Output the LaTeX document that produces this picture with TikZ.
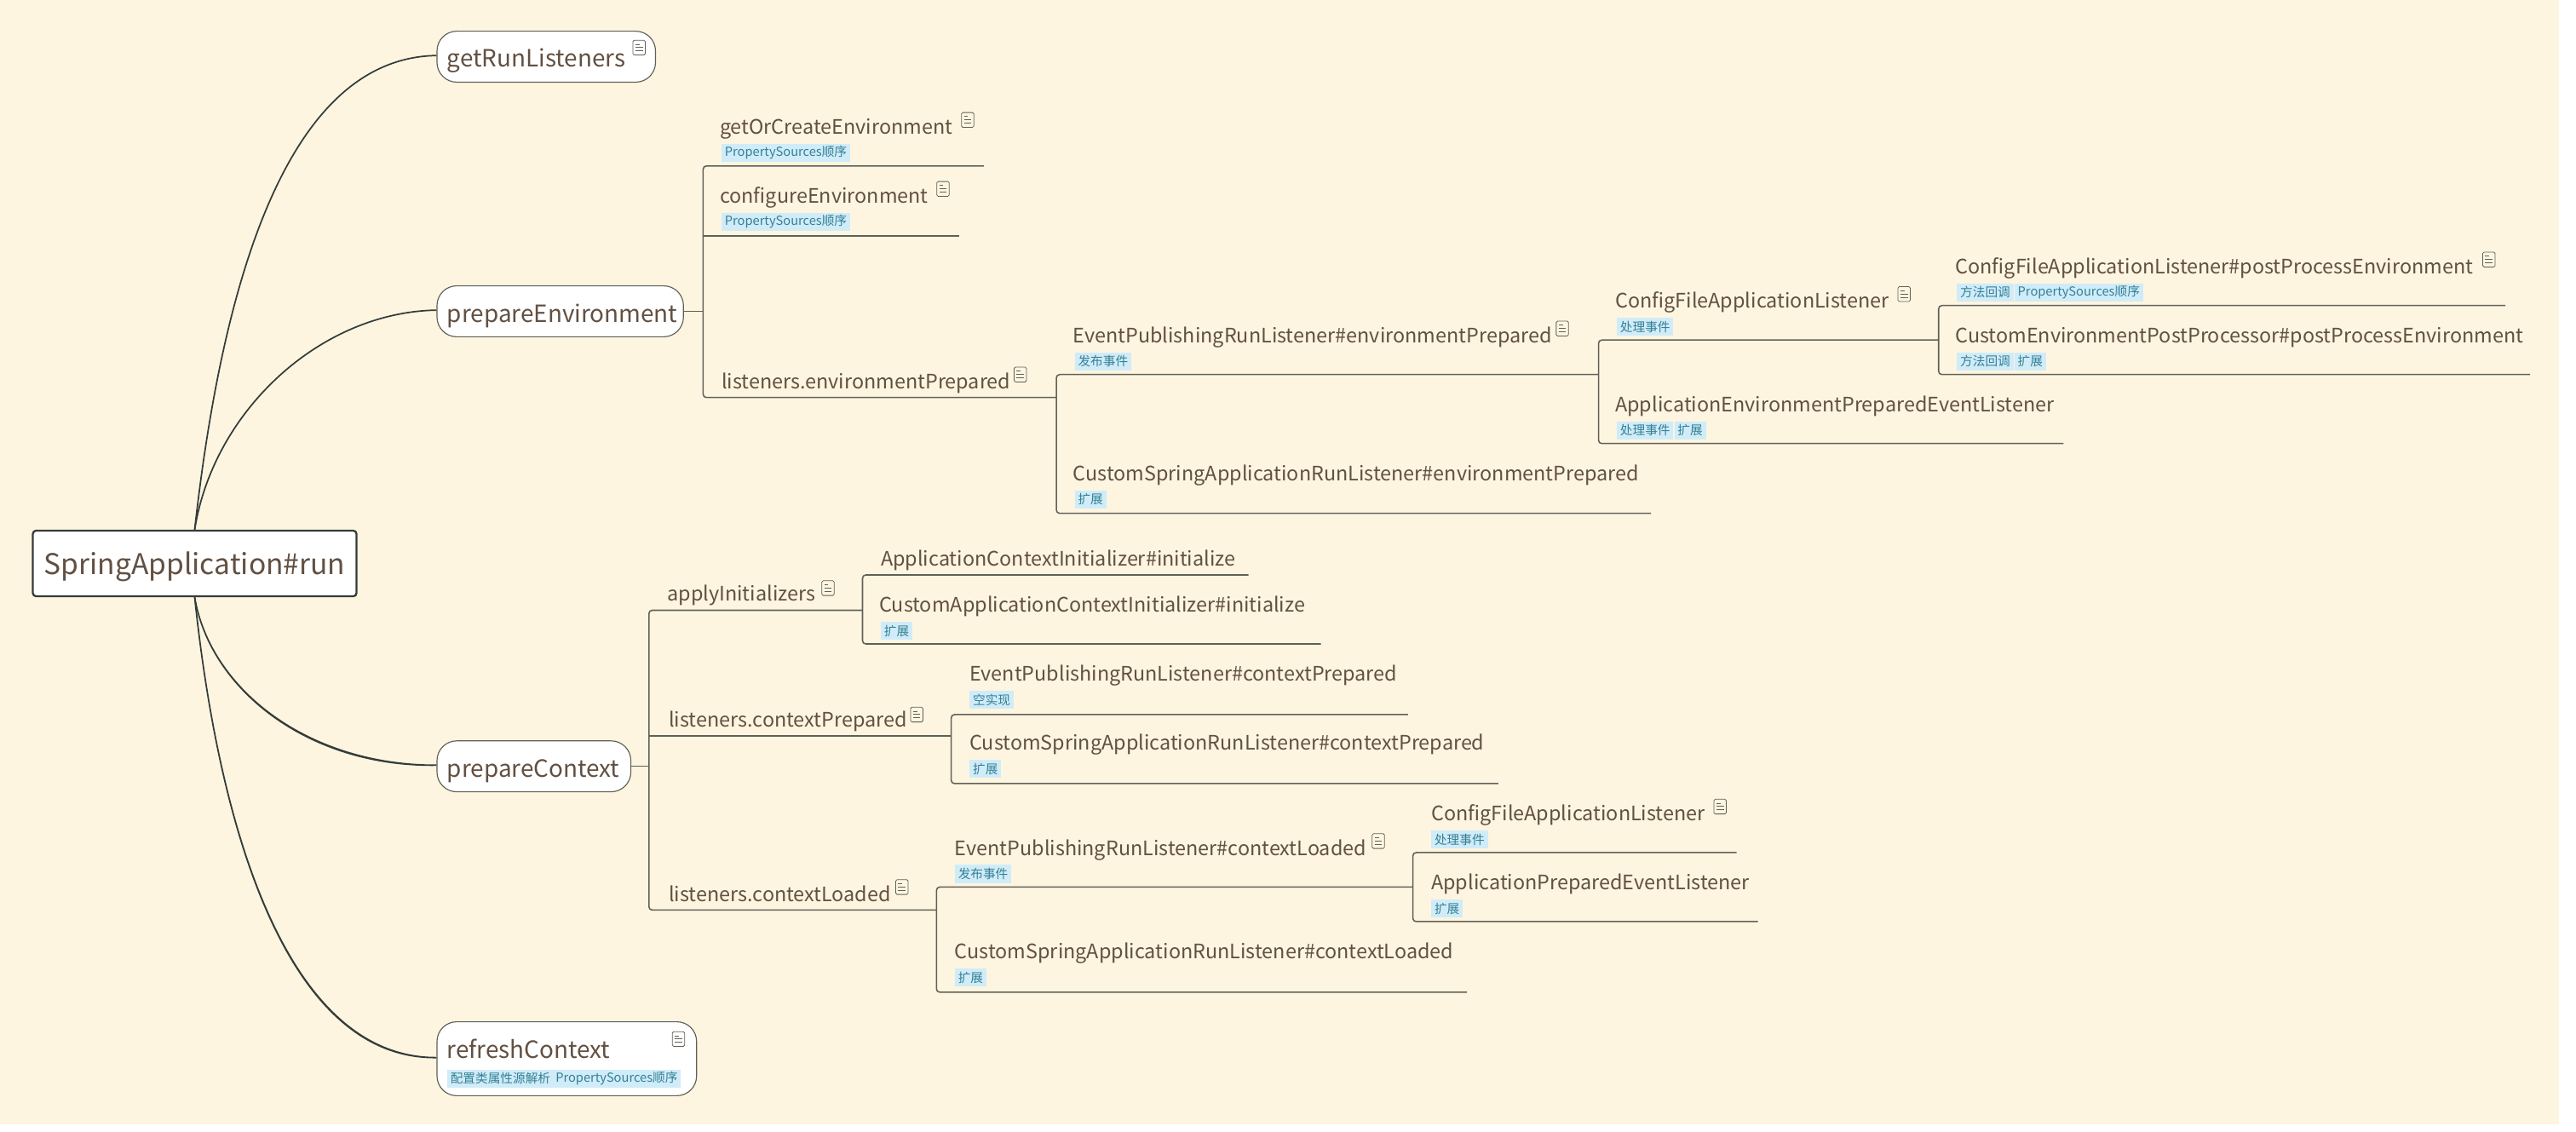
\documentclass[tikz,border=0pt]{standalone}
\usepackage{fontspec}
\setmainfont{Noto Sans CJK SC}
\definecolor{paper}{RGB}{253,245,224}
\definecolor{inkbrown}{RGB}{98,80,66}
\definecolor{linegray}{RGB}{96,96,88}
\definecolor{curvedark}{RGB}{52,60,58}
\definecolor{tagblue}{RGB}{208,236,248}
\definecolor{taginkblue}{RGB}{52,128,150}
\tikzset{
	rootnode/.style={draw=curvedark,line width=1.2pt,fill=white,rounded corners=2pt,minimum width=197pt,minimum height=40pt,inner sep=0pt,text height=16pt,text depth=3pt,text=inkbrown,font=\fontsize{17.4}{17.4}\selectfont},
	mainnode/.style={draw=linegray,line width=0.6pt,fill=white,rounded corners=12pt,inner sep=0pt},
	maintext/.style={anchor=west,inner sep=0pt,yshift=-3pt,text height=0.75em,text depth=0.2em,text=inkbrown,font=\fontsize{14.45}{14.45}\selectfont},
	subtext/.style={anchor=west,inner sep=0pt,yshift=-1.9pt,text height=0.75em,text depth=0.2em,text=inkbrown,font=\fontsize{12.13}{12.13}\selectfont},
	tagbox/.style={anchor=west,fill=tagblue,text=taginkblue,inner xsep=2pt,inner ysep=0pt,minimum height=11pt,font=\fontsize{7.6}{7.6}\selectfont},
	noteicon/.style={draw=linegray,line width=0.4pt,rounded corners=0.8pt,minimum width=7.5pt,minimum height=9pt,inner sep=0pt,
		path picture={\draw[linegray,line width=0.5pt] ([shift={(1.5pt,-2.5pt)}]path picture bounding box.north west) -- +(2.5pt,0) ([shift={(1.5pt,-4.5pt)}]path picture bounding box.north west) -- +(4.5pt,0) ([shift={(1.5pt,-6.5pt)}]path picture bounding box.north west) -- +(4.5pt,0);}},
	branch/.style={draw=linegray,line width=0.8pt,rounded corners=2pt},
	curveline/.style={draw=curvedark,fill=curvedark,line width=0.9pt}
}
\begin{document}
\begin{tikzpicture}[x=1pt,y=-1pt]
	\useasboundingbox (0,0) rectangle (1568,688.6);
	\fill[paper] (0,0) rectangle (1557.6,684.4);
	% root and main topics
	\node[rootnode] (run) at (118.5,343) {SpringApplication\#run};
	\node[mainnode,minimum width=133pt,minimum height=31pt] (listeners) at (332.5,34.5) {};
	\node[mainnode,minimum width=150pt,minimum height=31pt] (env) at (341,189.5) {};
	\node[mainnode,minimum width=118pt,minimum height=31pt] (ctx) at (325,466.5) {};
	\node[mainnode,minimum width=158pt,minimum height=45pt] (refresh) at (345,644.5) {};
	\node[maintext] (listenerstext) at (272,35) {getRunListeners};
	\node[maintext] (envtext) at (272,190.5) {prepareEnvironment};
	\node[maintext] (ctxtext) at (272,467.5) {prepareContext};
	\node[maintext] (refreshtext) at (272,638.5) {refreshContext};
	\node[noteicon] (listenersnote) at (389,29) {};
	\node[noteicon] (refreshnote) at (413,632.5) {};
	\node[tagbox] (refreshtaga) at (272,656.5) {配置类属性源解析};
	\node[tagbox] (refreshtagb) at (336,656.5) {PropertySources顺序};
	\draw[curveline] (run.north) .. controls (140,130) and (190,35) .. ([yshift=0.7pt]listeners.west) .. controls (190,35) and (140,130) .. (run.north) -- cycle;
	\draw[curveline] (run.north) .. controls (130,250) and (195,190) .. ([yshift=0.7pt]env.west) .. controls (195,190) and (130,250) .. (run.north) -- cycle;
	\draw[curveline] (run.south) .. controls (128,420) and (188,467) .. ([yshift=0.7pt]ctx.west) .. controls (188,466) and (128,420) .. (run.south) -- cycle;
	\draw[curveline] (run.south) .. controls (135,520) and (180,645) .. ([yshift=0.7pt]refresh.west) .. controls (180,644) and (135,520) .. (run.south) -- cycle;
	% prepareEnvironment
	\node[subtext] (goce) at (438,77) {getOrCreateEnvironment};
	\node[noteicon] (gocenote) at (589,73) {};
	\node[tagbox] (gocetag) at (439,93) {PropertySources顺序};
	\node[subtext] (conf) at (438,119) {configureEnvironment};
	\node[noteicon] (confnote) at (574,115) {};
	\node[tagbox] (conftag) at (439,135) {PropertySources顺序};
	\node[subtext] (lep) at (439,232) {listeners.environmentPrepared};
	\node[noteicon] (lepnote) at (621,228) {};
	\node[subtext] (eplep) at (653,204) {EventPublishingRunListener\#environmentPrepared};
	\node[noteicon] (eplepnote) at (951,200) {};
	\node[tagbox] (epleptag) at (654,220) {发布事件};
	\node[subtext] (cslep) at (653,288) {CustomSpringApplicationRunListener\#environmentPrepared};
	\node[tagbox] (csleptag) at (654,304) {扩展};
	\node[subtext] (cfal) at (983,183) {ConfigFileApplicationListener};
	\node[noteicon] (cfalnote) at (1159,179) {};
	\node[tagbox] (cfaltag) at (984,199) {处理事件};
	\node[subtext] (aepel) at (983,246) {ApplicationEnvironmentPreparedEventListener};
	\node[tagbox] (aepeltaga) at (984,262) {处理事件};
	\node[tagbox] (aepeltagb) at (1019,262) {扩展};
	\node[subtext] (cfpost) at (1190,162) {ConfigFileApplicationListener\#postProcessEnvironment};
	\node[noteicon] (cfpostnote) at (1515,158) {};
	\node[tagbox] (cfposttaga) at (1191,178) {方法回调};
	\node[tagbox] (cfposttagb) at (1226,178) {PropertySources顺序};
	\node[subtext] (cepost) at (1190,204) {CustomEnvironmentPostProcessor\#postProcessEnvironment};
	\node[tagbox] (ceposttaga) at (1191,220) {方法回调};
	\node[tagbox] (ceposttagb) at (1226,220) {扩展};
	\coordinate (goceL) at (428,101);
	\coordinate (goceR) at (599,101);
	\coordinate (confL) at (428,143.5);
	\coordinate (confR) at (584,143.5);
	\coordinate (lepL) at (428,242);
	\coordinate (lepR) at (643,242);
	\coordinate (eplepR) at (973,228);
	\coordinate (eplepL) at (643,228);
	\coordinate (cslepL) at (643,312.5);
	\coordinate (cslepR) at (1005,312.5);
	\coordinate (cfalL) at (973,207);
	\coordinate (cfalR) at (1180,207);
	\coordinate (aepelL) at (973,270);
	\coordinate (aepelR) at (1256,270);
	\coordinate (cfpostL) at (1180,186);
	\coordinate (cfpostR) at (1525,186);
	\coordinate (cepostL) at (1180,228);
	\coordinate (cepostR) at (1540,228);
	\draw[branch] (env.east) -- (env.east -| goceL);
	\draw[branch] (goceR) -- (goceL) -- (lepL) -- (lepR);
	\draw[branch] (confL) -- (confR);
	\draw[branch] (eplepR) -- (eplepL) -- (cslepL) -- (cslepR);
	\draw[branch] (cfalR) -- (cfalL) -- (aepelL) -- (aepelR);
	\draw[branch] (cfpostR) -- (cfpostL) -- (cepostL) -- (cepostR);
	% prepareContext
	\node[subtext] (init) at (406,361) {applyInitializers};
	\node[noteicon] (initnote) at (504,358) {};
	\node[subtext] (aci) at (536,340) {ApplicationContextInitializer\#initialize};
	\node[subtext] (caci) at (535,368) {CustomApplicationContextInitializer\#initialize};
	\node[tagbox] (cacitag) at (536,384) {扩展};
	\node[subtext] (lcp) at (407,438) {listeners.contextPrepared};
	\node[noteicon] (lcpnote) at (558,435) {};
	\node[subtext] (eplcp) at (590,410) {EventPublishingRunListener\#contextPrepared};
	\node[tagbox] (eplcptag) at (590,426) {空实现};
	\node[subtext] (cslcp) at (590,452) {CustomSpringApplicationRunListener\#contextPrepared};
	\node[tagbox] (cslcptag) at (590,468) {扩展};
	\node[subtext] (lcl) at (407,544) {listeners.contextLoaded};
	\node[noteicon] (lclnote) at (549,540) {};
	\node[subtext] (eplcl) at (581,516) {EventPublishingRunListener\#contextLoaded};
	\node[noteicon] (eplclnote) at (839,512) {};
	\node[tagbox] (eplcltag) at (581,532) {发布事件};
	\node[subtext] (cslcl) at (581,579) {CustomSpringApplicationRunListener\#contextLoaded};
	\node[tagbox] (cslcltag) at (581,595) {扩展};
	\node[subtext] (cfalb) at (871,495) {ConfigFileApplicationListener};
	\node[noteicon] (cfalbnote) at (1047,491) {};
	\node[tagbox] (cfalbtag) at (871,511) {处理事件};
	\node[subtext] (apel) at (871,537) {ApplicationPreparedEventListener};
	\node[tagbox] (apeltag) at (871,553) {扩展};
	\coordinate (initL) at (395,371.5);
	\coordinate (initR) at (525,371.5);
	\coordinate (lcpL) at (395,448);
	\coordinate (lcpR) at (579,448);
	\coordinate (lclL) at (395,554);
	\coordinate (lclR) at (570,554);
	\coordinate (aciL) at (525,350);
	\coordinate (aciR) at (760,350);
	\coordinate (caciL) at (525,392);
	\coordinate (caciR) at (804,392);
	\coordinate (eplcpL) at (579,435);
	\coordinate (eplcpR) at (857,435);
	\coordinate (cslcpL) at (579,477);
	\coordinate (cslcpR) at (912,477);
	\coordinate (eplclL) at (570,540);
	\coordinate (eplclR) at (860,540);
	\coordinate (cslclL) at (570,604);
	\coordinate (cslclR) at (893,604);
	\coordinate (cfalbL) at (860,519);
	\coordinate (cfalbR) at (1057,519);
	\coordinate (apelL) at (860,561);
	\coordinate (apelR) at (1070,561);
	\draw[branch] (ctx.east) -- (ctx.east -| initL);
	\draw[branch] (initR) -- (initL) -- (lclL) -- (lclR);
	\draw[branch] (lcpL) -- (lcpR);
	\draw[branch] (aciR) -- (aciL) -- (caciL) -- (caciR);
	\draw[branch] (eplcpR) -- (eplcpL) -- (cslcpL) -- (cslcpR);
	\draw[branch] (eplclR) -- (eplclL) -- (cslclL) -- (cslclR);
	\draw[branch] (cfalbR) -- (cfalbL) -- (apelL) -- (apelR);
\end{tikzpicture}
\end{document}
